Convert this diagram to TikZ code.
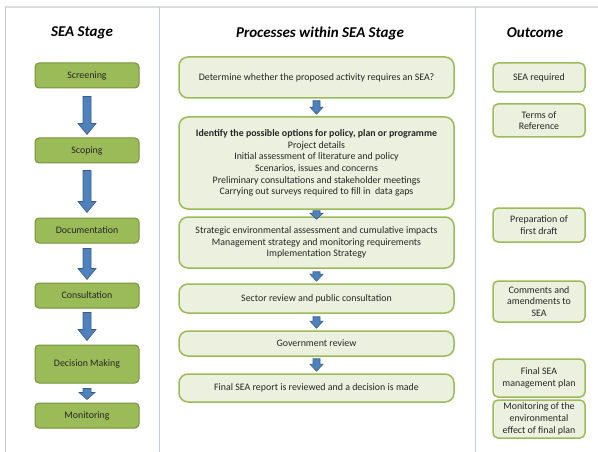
\documentclass[tikz,border=0pt]{standalone}
\usepackage{fontspec}
\setmainfont{Carlito}
\usetikzlibrary{calc}

\definecolor{stagegreen}{RGB}{155,187,89}
\definecolor{stageedge}{RGB}{118,146,60}
\definecolor{palegreen}{RGB}{235,241,222}
\definecolor{arrowblue}{RGB}{79,129,189}
\definecolor{arrowedge}{RGB}{56,93,138}
\definecolor{rulegray}{RGB}{220,220,220}
\definecolor{ruleblue}{RGB}{190,205,224}

% block arrow pointing down: from, to, top gap, bottom gap, shaft half width, head half width, head length
\newcommand{\flowdown}[7]{%
  \path[flowarrow] let \p1 = ($(#1.south)+(0,#3)$), \p2 = ($(#2.north)-(0,#4)$) in
    (\x1-#5pt,\y1) -- (\x1+#5pt,\y1) -- (\x1+#5pt,\y2+#7pt) -- (\x1+#6pt,\y2+#7pt)
    -- (\x1,\y2) -- (\x1-#6pt,\y2+#7pt) -- (\x1-#5pt,\y2+#7pt) -- cycle;}

\begin{document}
\begin{tikzpicture}[x=1pt, y=-1pt,
    every node/.style={text=black!85, font=\fontsize{9.9}{11.7}\selectfont},
    heading/.style={text=black, font=\fontsize{15}{18}\selectfont\bfseries\itshape},
    stagebox/.style={draw=stageedge, fill=stagegreen, line width=1pt, rounded corners=4pt,
      minimum width=104pt, inner sep=0pt},
    procbox/.style={draw=stagegreen, fill=palegreen, line width=1.5pt, rounded corners=9pt,
      minimum width=275pt, inner sep=0pt, align=center},
    outbox/.style={draw=stagegreen, fill=palegreen, line width=1.5pt, rounded corners=5pt,
      minimum width=92pt, inner sep=0pt, align=center},
    flowarrow/.style={fill=arrowblue, draw=arrowedge, line width=0.6pt}]
  \useasboundingbox (0,0) rectangle (598,452);

  % Frame and column rules
  \draw[rulegray, line width=1.5pt] (5,7) -- (598,7);
  \draw[black!22] (5,7) -- (5,452);
  \draw[ruleblue] (159,7) -- (159,452);
  \draw[ruleblue] (475,7) -- (475,452);

  % Column headings
  \node[heading] (headstage) at (82,33) {SEA Stage};
  \node[heading] (headproc) at (320,34) {Processes within SEA Stage};
  \node[heading] (headout) at (535,33) {Outcome};

  % SEA stages
  \node[stagebox, minimum height=25pt] (screen) at (87,75.5) {Screening};
  \node[stagebox, minimum height=25pt] (scope) at (87,150.5) {Scoping};
  \node[stagebox, minimum height=25pt] (document) at (87,230.5) {Documentation};
  \node[stagebox, minimum height=25pt] (consult) at (87,295.5) {Consultation};
  \node[stagebox, minimum height=38pt] (decide) at (87,364) {Decision Making};
  \node[stagebox, minimum height=25pt] (monitor) at (87,415.5) {Monitoring};

  \flowdown{screen}{scope}{8}{3}{4}{9}{11}
  \flowdown{scope}{document}{7}{5}{4}{9}{11}
  \flowdown{document}{consult}{5}{3}{4}{9}{11}
  \flowdown{consult}{decide}{4}{4}{4}{9}{11}
  \flowdown{decide}{monitor}{5}{3}{4}{8}{7}

  % Processes
  \node[procbox, minimum height=41pt] (proc1) at (316.5,77.5)
    {Determine whether the proposed activity requires an SEA?};
  \node[procbox, minimum height=92pt] (proc2) at (316.5,163)
    {\textbf{Identify the possible options for policy, plan or programme}\\
     Project details\\
     Initial assessment of literature and policy\\
     Scenarios, issues and concerns\\
     Preliminary consultations and stakeholder meetings\\
     Carrying out surveys required to fill in\ \ data gaps};
  \node[procbox, minimum height=51pt] (proc3) at (316.5,242.5)
    {Strategic environmental assessment and cumulative impacts\\
     Management strategy and monitoring requirements\\
     Implementation Strategy};
  \node[procbox, minimum height=29pt] (proc4) at (316.5,298.5)
    {Sector review and public consultation};
  \node[procbox, minimum height=25pt] (proc5) at (316.5,343.5) {Government review};
  \node[procbox, minimum height=28pt] (proc6) at (316.5,388)
    {Final SEA report is reviewed and a decision is made};

  \flowdown{proc1}{proc2}{2}{2}{3.5}{6.5}{7}
  \flowdown{proc2}{proc3}{1}{-3}{3.5}{6.5}{6}
  \flowdown{proc3}{proc4}{3}{2}{3.5}{6.5}{7}
  \flowdown{proc4}{proc5}{3}{2}{3.5}{6.5}{7}
  \flowdown{proc5}{proc6}{2}{2}{3.5}{6.5}{7}

  % Outcomes
  \node[outbox, minimum height=29pt] (out1) at (539,77.5) {SEA required};
  \node[outbox, minimum height=33pt] (out2) at (539,120.5) {Terms of\\Reference};
  \node[outbox, minimum height=34pt] (out3) at (539,225) {Preparation of\\first draft};
  \node[outbox, minimum height=41pt] (out4) at (539,301.5) {Comments and\\amendments to\\SEA};
  \node[outbox, minimum height=38pt] (out5) at (539,378) {Final SEA\\management plan};
  \node[outbox, minimum height=38pt] (out6) at (539,419)
    {Monitoring of the\\environmental\\effect of final plan};
\end{tikzpicture}
\end{document}
